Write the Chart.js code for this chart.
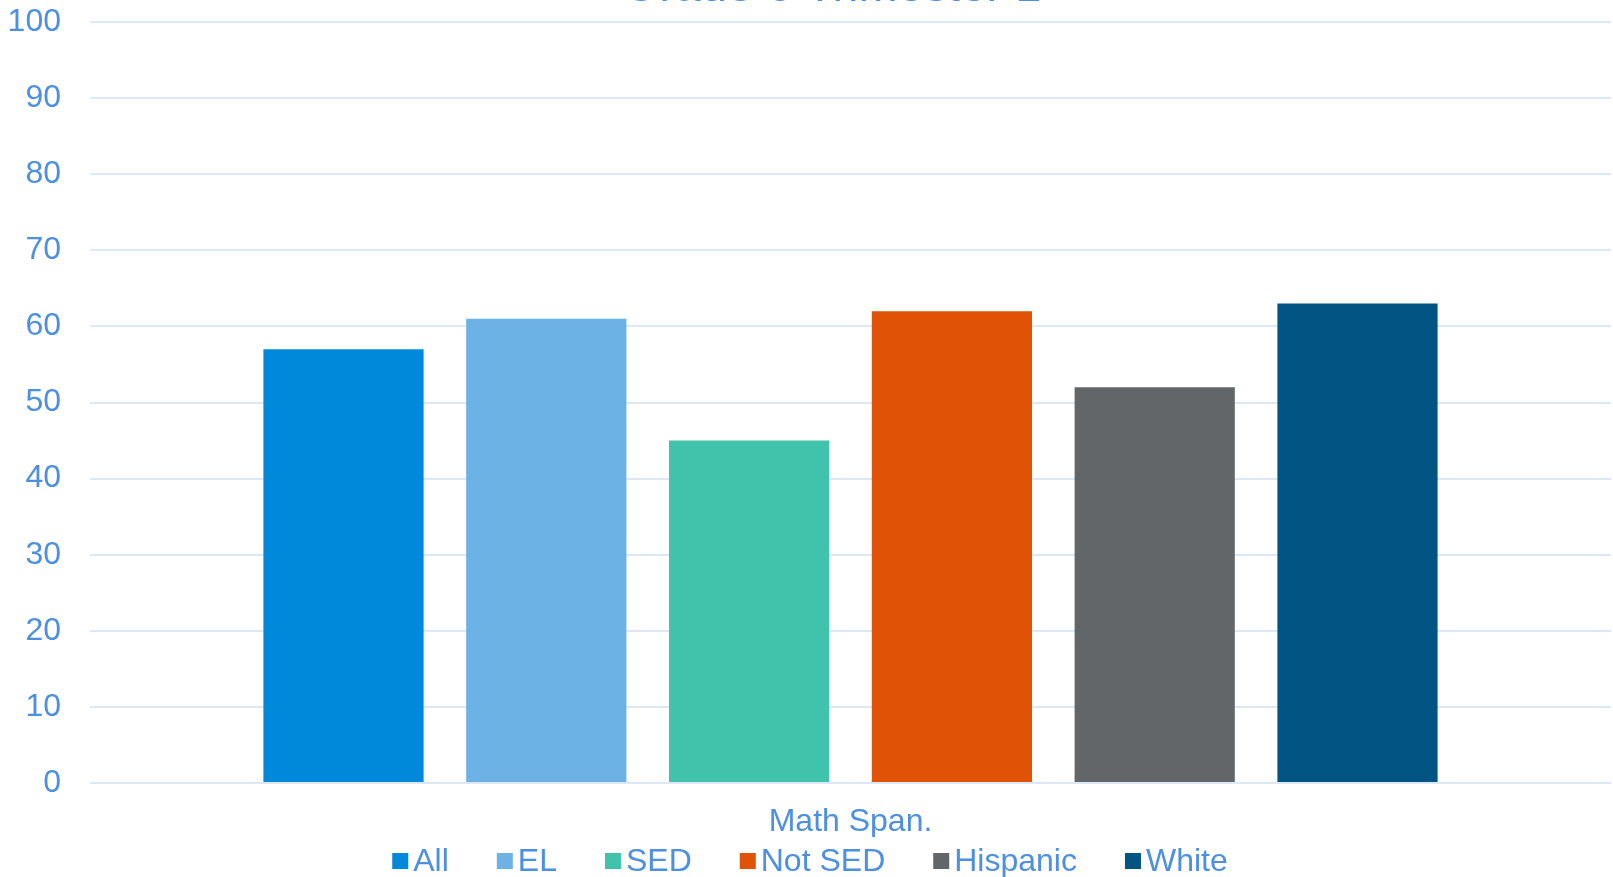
<!DOCTYPE html>
<html>
<head>
<meta charset="utf-8">
<title>Grade 6 Trimester 1</title>
<script src="https://cdn.jsdelivr.net/npm/chart.js@4/dist/chart.umd.min.js"></script>
<style>
  html, body { margin: 0; padding: 0; background: #fff; overflow: hidden; }
  #wrap { position: relative; width: 1613px; height: 877px; }
</style>
</head>
<body>
<div id="wrap"><canvas id="barChart"></canvas></div>
<script>
// data
var chartTitle = 'Grade 6 Trimester 1';
var categories = ['Math Span.'];
var groups = ['All', 'EL', 'SED', 'Not SED', 'Hispanic', 'White'];
var groupValues = [57, 61, 45, 62, 52, 63];

// styles
var groupColors = ['#0089da', '#6cb2e5', '#41c2ab', '#e05206', '#626669', '#025483'];
var textColor = '#4d8fe0';
var gridColor = '#dce7f7';
var fontFamily = '"Liberation Sans", Arial, sans-serif';

var datasets = [];
for (var i = 0; i < groups.length; i++) {
    datasets.push({
        label: groups[i],
        data: [groupValues[i]],
        backgroundColor: groupColors[i],
        borderWidth: 0,
        categoryPercentage: 0.8,
        barPercentage: 0.79
    });
}

// title sits mostly above the visible frame, legend uses small square keys
var titleAndLegend = {
    id: 'titleAndLegend',
    afterDraw: function (chart) {
        var ctx = chart.ctx;
        ctx.save();
        ctx.fillStyle = textColor;
        ctx.font = '47px ' + fontFamily;
        ctx.textAlign = 'center';
        ctx.textBaseline = 'alphabetic';
        ctx.fillText(chartTitle, 832, 1);

        ctx.font = '32px ' + fontFamily;
        ctx.textBaseline = 'middle';
        ctx.textAlign = 'left';
        var box = 16, gap = 5, spacing = 48;
        var widths = [];
        var total = 0;
        chart.data.datasets.forEach(function (ds, idx) {
            var w = box + gap + ctx.measureText(ds.label).width;
            widths.push(w);
            total += w + (idx > 0 ? spacing : 0);
        });
        var x = 810 - total / 2;
        var y = chart.height - 16;
        chart.data.datasets.forEach(function (ds, idx) {
            ctx.fillStyle = ds.backgroundColor;
            ctx.fillRect(x, y - box / 2, box, box);
            ctx.fillStyle = textColor;
            ctx.fillText(ds.label, x + box + gap, y + 1);
            x += widths[idx] + spacing;
        });
        ctx.restore();
    }
};

var ctx = document.getElementById('barChart').getContext('2d');
var chart = new Chart(ctx, {
    type: 'bar',
    data: { labels: categories, datasets: datasets },
    options: {
        responsive: true,
        maintainAspectRatio: false,
        animation: false,
        devicePixelRatio: 1,
        layout: { padding: { top: 22, right: 2, bottom: 40, left: 0 } },
        plugins: {
            legend: { display: false },
            title: { display: false },
            tooltip: { enabled: false }
        },
        scales: {
            x: {
                grid: { display: false, drawTicks: false },
                border: { display: false },
                ticks: {
                    color: textColor,
                    padding: 20,
                    font: { family: fontFamily, size: 32 }
                },
                afterFit: function (scale) { scale.height = 54; }
            },
            y: {
                min: 0,
                max: 100,
                grid: { color: gridColor, lineWidth: 2, drawTicks: false },
                border: { display: false },
                ticks: {
                    stepSize: 10,
                    color: textColor,
                    padding: 29,
                    font: { family: fontFamily, size: 32 }
                },
                afterFit: function (scale) {
                    scale.width = 90;
                    scale.paddingTop = 0;
                    scale.paddingBottom = 0;
                }
            }
        }
    },
    plugins: [titleAndLegend]
});
</script>
</body>
</html>
